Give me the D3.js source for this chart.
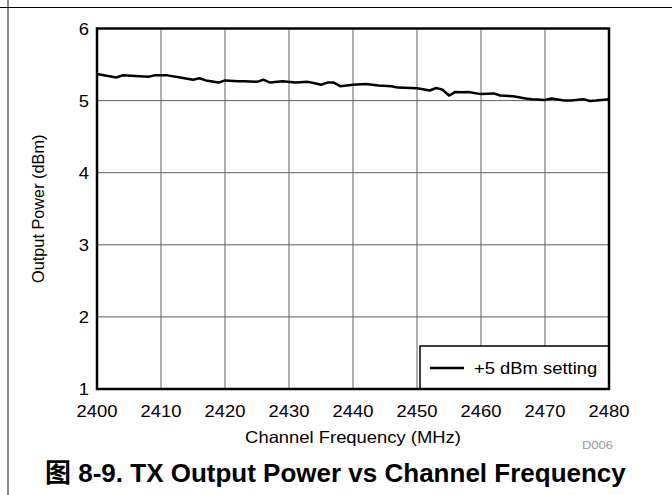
<!DOCTYPE html>
<html>
<head>
<meta charset="utf-8">
<script src="https://cdnjs.cloudflare.com/ajax/libs/d3/7.8.5/d3.min.js"></script>
<style>
  body { margin: 0; background: #fff; }
  svg { display: block; }
</style>
</head>
<body>
<div id="chart"></div>
<script>
// values (MHz, dBm)
var freq = [2400, 2403, 2404, 2406, 2408, 2409, 2411, 2413, 2415, 2416, 2417, 2419, 2420,
  2422, 2423, 2425, 2426, 2427, 2429, 2431, 2433, 2434, 2435, 2436, 2437, 2438, 2440,
  2442, 2444, 2446, 2447, 2450, 2452, 2453, 2454, 2455, 2456, 2457, 2458, 2460, 2462,
  2463, 2465, 2467, 2468, 2470, 2471, 2473, 2474, 2476, 2477, 2478, 2480];
var power = [5.37, 5.32, 5.35, 5.34, 5.33, 5.35, 5.35, 5.32, 5.29, 5.31, 5.28, 5.25, 5.28,
  5.27, 5.27, 5.26, 5.29, 5.25, 5.27, 5.25, 5.26, 5.24, 5.22, 5.25, 5.25, 5.20, 5.22,
  5.23, 5.21, 5.20, 5.18, 5.17, 5.14, 5.175, 5.15, 5.07, 5.12, 5.115, 5.12, 5.09, 5.10,
  5.07, 5.06, 5.03, 5.02, 5.01, 5.03, 5.00, 5.00, 5.02, 4.995, 5.00, 5.02];
var xTicks = [2400, 2410, 2420, 2430, 2440, 2450, 2460, 2470, 2480];
var yTicks = [1, 2, 3, 4, 5, 6];
var seriesName = "+5 dBm setting";
var xTitle = "Channel Frequency (MHz)";
var yTitle = "Output Power (dBm)";
var figCode = "D006";
var caption = "图 8-9. TX Output Power vs Channel Frequency";

var W = 672, H = 495;
// plot box (note: "top" is taken by window.top, so prefix these)
var pLeft = 97, pRight = 609, pTop = 28.5, pBottom = 389;
var sx = 1.13; // chart text looks horizontally stretched
var font = "'Liberation Sans', Arial, sans-serif";

var svg = d3.select("#chart").append("svg")
  .attr("width", W)
  .attr("height", H);

// page frame lines
svg.append("line").attr("x1", 8).attr("x2", 8).attr("y1", 0).attr("y2", H)
  .attr("stroke", "#888").attr("stroke-width", 2);
svg.append("line").attr("x1", 0).attr("x2", W).attr("y1", 7.5).attr("y2", 7.5)
  .attr("stroke", "#000").attr("stroke-width", 1);

var x = d3.scaleLinear().domain([2400, 2480]).range([pLeft, pRight]);
var y = d3.scaleLinear().domain([1, 6]).range([pBottom, pTop]);

// grid
svg.append("g").selectAll("line").data(xTicks.slice(1, -1)).enter().append("line")
  .attr("x1", function(d) { return x(d); }).attr("x2", function(d) { return x(d); })
  .attr("y1", pTop).attr("y2", pBottom)
  .attr("stroke", "#606060").attr("stroke-width", 1);
svg.append("g").selectAll("line").data(yTicks.slice(1, -1)).enter().append("line")
  .attr("x1", pLeft).attr("x2", pRight)
  .attr("y1", function(d) { return y(d); }).attr("y2", function(d) { return y(d); })
  .attr("stroke", "#606060").attr("stroke-width", 1);

function label(g, px, py, txt, anchor, size) {
  return g.append("text")
    .attr("transform", "translate(" + px + "," + py + ") scale(" + sx + ",1)")
    .attr("text-anchor", anchor)
    .attr("font-family", font)
    .attr("font-size", size)
    .attr("fill", "#000")
    .text(txt);
}

// tick labels
xTicks.forEach(function(t) { label(svg, x(t), 417, t, "middle", 16.3); });
yTicks.forEach(function(t) { label(svg, pLeft - 8, y(t) + 6, t, "end", 16.3); });

// data line
var line = d3.line()
  .x(function(d) { return x(d[0]); })
  .y(function(d) { return y(d[1]); });
svg.append("path")
  .datum(d3.zip(freq, power))
  .attr("d", line)
  .attr("fill", "none")
  .attr("stroke", "#000")
  .attr("stroke-width", 2.5)
  .attr("stroke-linejoin", "round");

// legend
var lg = svg.append("g");
lg.append("rect").attr("x", 420).attr("y", 346).attr("width", pRight - 420).attr("height", pBottom - 346)
  .attr("fill", "#fff").attr("stroke", "#000").attr("stroke-width", 1.5);
lg.append("line").attr("x1", 430).attr("x2", 464).attr("y1", 368).attr("y2", 368)
  .attr("stroke", "#000").attr("stroke-width", 2.5);
label(lg, 474, 374, seriesName, "start", 16.3);

// plot border
svg.append("rect").attr("x", pLeft).attr("y", pTop)
  .attr("width", pRight - pLeft).attr("height", pBottom - pTop)
  .attr("fill", "none").attr("stroke", "#000").attr("stroke-width", 2.5);

// titles
label(svg, (pLeft + pRight) / 2, 443, xTitle, "middle", 16.3);
svg.append("text")
  .attr("transform", "translate(44," + (pTop + pBottom) / 2 + ") rotate(-90)")
  .attr("text-anchor", "middle")
  .attr("font-family", font)
  .attr("font-size", 16.3)
  .text(yTitle);
label(svg, 613, 449, figCode, "end", 11.5).attr("fill", "#999");

svg.append("text")
  .attr("x", 45).attr("y", 482)
  .attr("font-family", "'Liberation Sans', Arial, 'Noto Sans CJK SC', sans-serif")
  .attr("font-weight", "bold")
  .attr("font-size", 26)
  .text(caption);
</script>
</body>
</html>
